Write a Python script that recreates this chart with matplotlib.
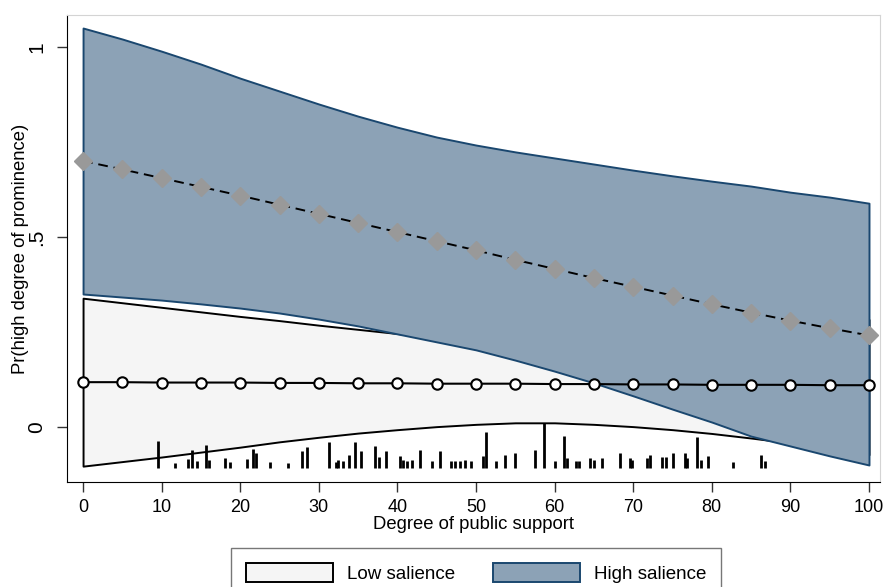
import matplotlib.pyplot as plt
from matplotlib.patches import Patch

plt.rcParams['font.family'] = ['Liberation Sans', 'DejaVu Sans']

# predicted probabilities at every 5 points of public support
support = [0, 5, 10, 15, 20, 25, 30, 35, 40, 45, 50,
           55, 60, 65, 70, 75, 80, 85, 90, 95, 100]

low_est = [0.118, 0.118, 0.117, 0.117, 0.117, 0.116, 0.116, 0.115, 0.115, 0.114, 0.114,
           0.114, 0.113, 0.113, 0.112, 0.112, 0.111, 0.111, 0.111, 0.110, 0.110]
low_lo = [-0.103, -0.091, -0.079, -0.066, -0.053, -0.039, -0.027, -0.016, -0.007, 0.001, 0.007,
          0.011, 0.011, 0.007, 0.001, -0.007, -0.017, -0.029, -0.042, -0.057, -0.073]
low_hi = [0.339, 0.327, 0.315, 0.303, 0.291, 0.280, 0.268, 0.257, 0.246, 0.236, 0.227,
          0.220, 0.215, 0.213, 0.214, 0.218, 0.225, 0.235, 0.248, 0.264, 0.283]

high_est = [0.700, 0.678, 0.655, 0.632, 0.609, 0.585, 0.561, 0.537, 0.513, 0.489, 0.465,
            0.440, 0.416, 0.392, 0.369, 0.346, 0.323, 0.301, 0.280, 0.260, 0.241]
high_lo = [0.350, 0.342, 0.334, 0.324, 0.313, 0.300, 0.284, 0.266, 0.245, 0.224, 0.203,
           0.176, 0.147, 0.116, 0.082, 0.047, 0.013, -0.024, -0.050, -0.076, -0.100]
high_hi = [1.050, 1.021, 0.989, 0.955, 0.918, 0.884, 0.850, 0.818, 0.789, 0.763, 0.742,
           0.724, 0.708, 0.692, 0.676, 0.661, 0.647, 0.634, 0.618, 0.605, 0.589]

# distribution of observed public support (spike heights)
rug_x = [9.55, 11.7, 13.4, 13.8, 14.5, 15.7, 16.0, 18.1, 18.7, 20.8, 21.6, 22.0, 23.8,
         26.1, 27.8, 28.5, 31.3, 32.2, 32.5, 33.1, 33.8, 34.6, 35.4, 37.1, 37.7, 38.6,
         40.3, 40.7, 41.2, 41.9, 42.9, 44.4, 45.4, 46.8, 47.3, 48.0, 48.6, 49.4, 50.9,
         51.3, 52.6, 53.7, 55.0, 57.5, 58.6, 60.1, 61.2, 61.6, 62.7, 63.1, 64.5, 65.0,
         66.0, 68.3, 69.6, 69.9, 71.7, 72.1, 73.6, 74.2, 75.1, 76.6, 76.8, 78.1, 78.6,
         79.5, 82.7, 86.3, 86.8]
rug_h = [0.071, 0.013, 0.024, 0.047, 0.018, 0.061, 0.021, 0.026, 0.016, 0.024, 0.050, 0.039, 0.016,
         0.013, 0.045, 0.055, 0.068, 0.016, 0.021, 0.018, 0.034, 0.068, 0.045, 0.058, 0.029, 0.045,
         0.032, 0.021, 0.018, 0.021, 0.047, 0.018, 0.045, 0.018, 0.018, 0.018, 0.021, 0.018, 0.032,
         0.095, 0.018, 0.034, 0.039, 0.047, 0.118, 0.018, 0.084, 0.026, 0.018, 0.018, 0.026, 0.021,
         0.026, 0.039, 0.026, 0.021, 0.026, 0.034, 0.029, 0.029, 0.039, 0.039, 0.026, 0.082, 0.021,
         0.032, 0.016, 0.034, 0.018]
rug_base = -0.108

x_ticks = [0, 10, 20, 30, 40, 50, 60, 70, 80, 90, 100]
y_ticks = [0, 0.5, 1]
y_ticklabels = ['0', '.5', '1']

navy = '#1a476f'
blue_fill = '#8ca2b6'
light_fill = '#f5f5f5'

fig = plt.figure(figsize=(8.83, 5.87), dpi=100)
ax = fig.add_axes([0.0759, 0.1789, 0.9207, 0.7955])

ax.fill_between(support, low_lo, low_hi, facecolor=light_fill, edgecolor='black',
                linewidth=1.4, zorder=1)
ax.vlines(rug_x, rug_base, [rug_base + h for h in rug_h], colors='black',
          linewidth=2, zorder=2)
ax.fill_between(support, high_lo, high_hi, facecolor=blue_fill, edgecolor=navy,
                linewidth=1.4, zorder=3)

ax.plot(support, low_est, color='black', linewidth=1.5, marker='o', markersize=7.5,
        markerfacecolor='white', markeredgecolor='black', markeredgewidth=1.5, zorder=5)
ax.plot(support, high_est, color='black', linewidth=1.4, linestyle=(0, (5, 3)), zorder=4)
ax.plot(support, high_est, linestyle='none', marker='D', markersize=9,
        markerfacecolor='#999999', markeredgecolor='#999999', zorder=5)

ax.set_xlim(-2.04, 101.4)
ax.set_ylim(-0.1447, 1.0842)

ax.set_xticks(x_ticks)
ax.set_yticks(y_ticks)
ax.set_yticklabels(y_ticklabels, rotation=90, va='center')
ax.tick_params(axis='both', length=7, width=1, color='#333333', pad=5)
ax.tick_params(axis='x', labelsize=13)
ax.tick_params(axis='y', labelsize=15, pad=8)

for side in ['top', 'right']:
    ax.spines[side].set_color('#d4d4d4')
for side in ['left', 'bottom']:
    ax.spines[side].set_color('black')

ax.set_xlabel('Degree of public support', fontsize=13.3, labelpad=0)
ax.set_ylabel('Pr(high degree of prominence)', fontsize=13.3, labelpad=-1)

handles = [Patch(facecolor=light_fill, edgecolor='black', linewidth=1.4, label='Low salience'),
           Patch(facecolor=blue_fill, edgecolor=navy, linewidth=1.4, label='High salience')]
fig.legend(handles=handles, loc='upper center', bbox_to_anchor=(0.539, 0.082), ncol=2,
           fontsize=13.5, frameon=True, fancybox=False, edgecolor='#555555',
           handlelength=4.64, handleheight=1.17, handletextpad=0.75, columnspacing=2.0,
           borderpad=0.8)

fig.savefig('out.png', dpi=100)
